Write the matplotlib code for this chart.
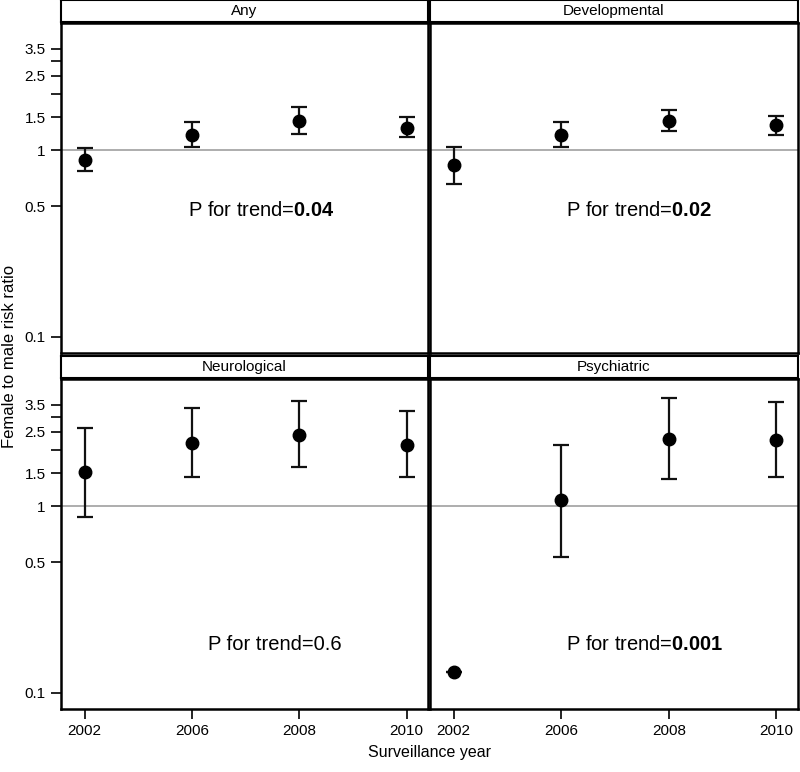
import matplotlib
matplotlib.use("Agg")
import matplotlib.pyplot as plt

plt.rcParams["font.family"] = ["Liberation Sans", "DejaVu Sans"]
plt.rcParams["mathtext.fontset"] = "custom"
plt.rcParams["mathtext.rm"] = "Liberation Sans"
plt.rcParams["mathtext.bf"] = "Liberation Sans:bold"

# Data
years = ["2002", "2006", "2008", "2010"]
panel_names = ["Any", "Developmental", "Neurological", "Psychiatric"]

any_rr = [0.89, 1.20, 1.43, 1.31]
any_lo = [0.77, 1.04, 1.22, 1.17]
any_hi = [1.03, 1.41, 1.70, 1.50]

dev_rr = [0.83, 1.20, 1.43, 1.36]
dev_lo = [0.66, 1.04, 1.26, 1.20]
dev_hi = [1.04, 1.41, 1.64, 1.52]

neu_rr = [1.52, 2.19, 2.41, 2.12]
neu_lo = [0.87, 1.43, 1.63, 1.43]
neu_hi = [2.62, 3.37, 3.64, 3.22]

psy_rr = [0.13, 1.08, 2.30, 2.26]
psy_lo = [0.13, 0.535, 1.39, 1.44]
psy_hi = [0.13, 2.13, 3.78, 3.60]

p_values = ["0.04", "0.02", "0.6", "0.001"]
p_bold = [True, True, False, True]

y_ticks = [0.1, 0.5, 1, 1.5, 2, 2.5, 3, 3.5]
y_ticklabels = ["0.1", "0.5", "1", "1.5", "", "2.5", "", "3.5"]

# Layout (pixel boxes: x0, y0 of plot top, x1, y1 of plot bottom)
W, H = 800, 772
boxes = [(61, 23, 428, 353), (430, 23, 798, 353),
         (61, 379, 428, 709), (430, 379, 798, 709)]
strip_h = 22
text_pos = [(0.345, 0.433), (0.37, 0.433), (0.40, 0.194), (0.37, 0.194)]

fig = plt.figure(figsize=(W / 100, H / 100), dpi=100)


def px_axes(x0, y0, x1, y1):
    return fig.add_axes([x0 / W, 1 - y1 / H, (x1 - x0) / W, (y1 - y0) / H])


series = [(any_rr, any_lo, any_hi), (dev_rr, dev_lo, dev_hi),
          (neu_rr, neu_lo, neu_hi), (psy_rr, psy_lo, psy_hi)]

for i, (rr, lo, hi) in enumerate(series):
    x0, y0, x1, y1 = boxes[i]
    ax = px_axes(x0, y0, x1, y1)
    xs = list(range(len(years)))
    yerr = [[r - l for r, l in zip(rr, lo)], [h - r for r, h in zip(rr, hi)]]
    ax.axhline(1, color="#a0a0a0", lw=1.2, zorder=1)
    ax.errorbar(xs, rr, yerr=yerr, fmt="o", color="black", ms=9,
                ecolor="#111111", elinewidth=1.6, capsize=5.5, capthick=1.6, zorder=3)
    ax.set_yscale("log")
    ax.set_ylim(0.082, 4.8)
    ax.set_xlim(-0.22, 3.2)
    ax.minorticks_off()
    ax.set_yticks(y_ticks)
    ax.set_xticks(xs)
    if i % 2 == 0:
        ax.set_yticklabels(y_ticklabels, fontsize=11)
    else:
        ax.tick_params(axis="y", left=False, labelleft=False)
    if i >= 2:
        ax.set_xticklabels(years, fontsize=11)
    else:
        ax.tick_params(axis="x", bottom=False, labelbottom=False)
    ax.tick_params(direction="out", length=7, width=1.2, pad=4)
    for sp in ax.spines.values():
        sp.set_linewidth(1.8)

    val = p_values[i]
    label = "P for trend=" + (r"$\mathbf{" + val + "}$" if p_bold[i] else val)
    tx, ty = text_pos[i]
    ax.text(tx, ty, label, transform=ax.transAxes, fontsize=14.5,
            ha="left", va="center")

    # strip header
    sax = px_axes(x0, y0 - strip_h - 1, x1, y0 - 1)
    sax.set_xticks([])
    sax.set_yticks([])
    for sp in sax.spines.values():
        sp.set_linewidth(1.5)
    sax.text(0.5, 0.5, panel_names[i], transform=sax.transAxes,
             ha="center", va="center", fontsize=11)

fig.text(10 / W, 1 - 356 / H, "Female to male risk ratio", rotation=90,
         ha="center", va="center", fontsize=12)
fig.text(430 / W, 1 - 752 / H, "Surveillance year", ha="center", va="center",
         fontsize=11.5)

fig.savefig("out.png", dpi=100)
